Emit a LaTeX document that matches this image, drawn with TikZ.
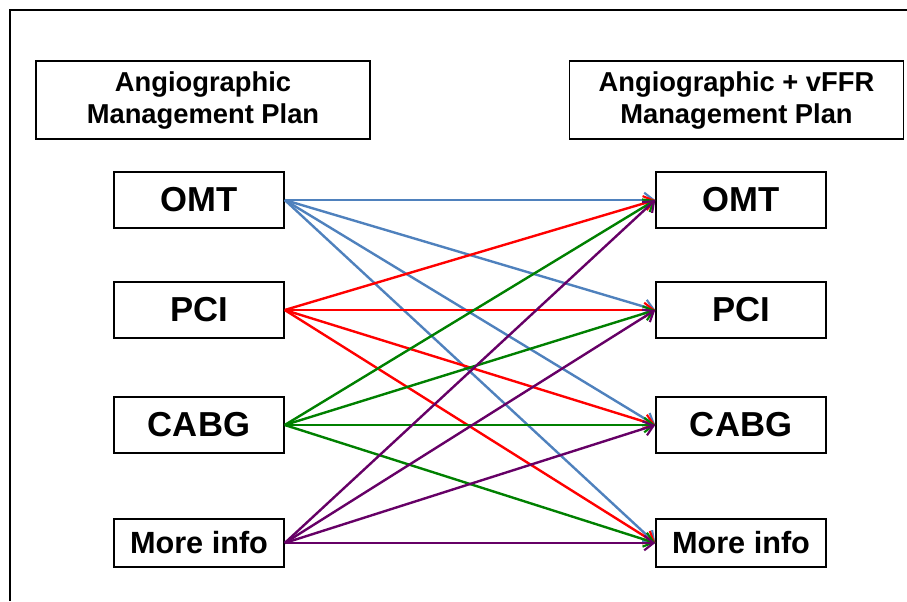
\documentclass[tikz,border=0pt]{standalone}
\usepackage{fontspec}
\setmainfont{Liberation Sans}
\usetikzlibrary{arrows.meta,positioning}
\definecolor{omtblue}{HTML}{4F81BD}
\definecolor{pcired}{HTML}{FF0000}
\definecolor{cabggreen}{HTML}{008000}
\definecolor{infopurple}{HTML}{660066}
\tikzset{
  planhdr/.style = { draw, line width=1.1pt, minimum width=250.5pt, minimum height=58.5pt,
    align=center, inner sep=0pt, font=\fontsize{20.5}{24}\selectfont\bfseries },
  choice/.style  = { draw, line width=1.1pt, minimum width=127.5pt, minimum height=42pt,
    inner sep=0pt, font=\fontsize{26}{30}\selectfont\bfseries },
  smallchoice/.style = { choice, minimum height=36pt, font=\fontsize{23}{27}\selectfont\bfseries },
  link/.style    = { line width=1.8pt, -{Straight Barb[length=7pt,width=11pt,line width=1.6pt]} }
}

\begin{document}
\begin{tikzpicture}[x=0.75pt,y=-0.75pt,node distance=406.5pt,on grid]
    \useasboundingbox (0,0) rectangle (907,601);
    % frame
    \draw[line width=1.5pt] (10,601) -- (10,10) -- (907,10);

    % headers
    \node[planhdr] (hl) at (203,100) {Angiographic\\Management Plan};
    \node[planhdr] (hr) at (736.5,100) {Angiographic + vFFR\\Management Plan};

    % left column
    \node[choice] (l1) at (199,200) {OMT};
    \node[choice] (l2) at (199,310) {PCI};
    \node[choice] (l3) at (199,425) {CABG};
    \node[smallchoice] (l4) at (199,543) {More info};

    % right column
    \node[choice, right=of l1] (r1) {OMT};
    \node[choice, right=of l2] (r2) {PCI};
    \node[choice, right=of l3] (r3) {CABG};
    \node[smallchoice, right=of l4] (r4) {More info};

    \foreach \i/\c in {1/omtblue,2/pcired,3/cabggreen,4/infopurple}
      \foreach \j in {1,...,4}
        \draw[link,\c] (l\i.east) -- (r\j.west);
\end{tikzpicture}
\end{document}
